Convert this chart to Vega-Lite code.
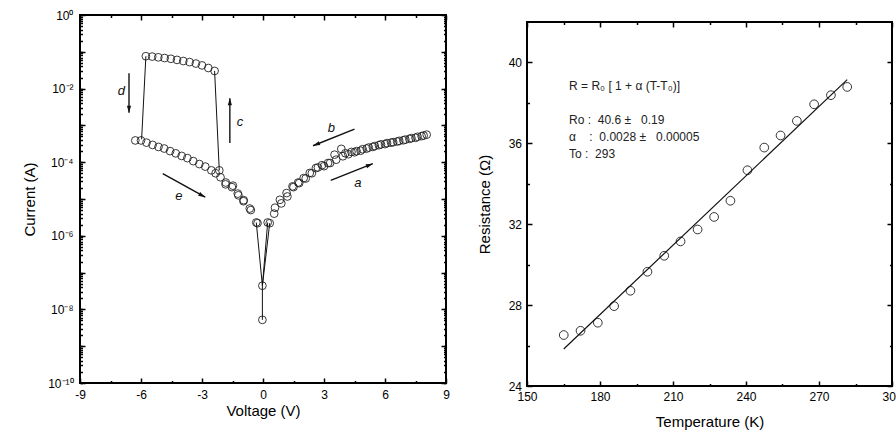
{
  "$schema": "https://vega.github.io/schema/vega-lite/v6.json",
  "padding": {"left": 21, "top": 8, "right": 0, "bottom": 0},
  "spacing": 25,
  "config": {
    "font": "Liberation Sans",
    "view": {"stroke": "black", "strokeWidth": 2},
    "axis": {"domain": false, "grid": false, "tickColor": "black", "tickWidth": 1.5, "labelColor": "black", "labelFont": "Liberation Sans", "labelFontSize": 12, "titleFont": "Liberation Sans", "titleFontSize": 15, "titleFontWeight": "normal", "titleColor": "black", "labelFlush": false, "labelOverlap": false}
  },
  "datasets": {
    "iv": [
      {"V": -6.28, "I": 3.9e-4}, {"V": -6.0, "I": 3.9e-4}, {"V": -5.73, "I": 3.4e-4}, {"V": -5.43, "I": 2.95e-4}, {"V": -5.14, "I": 2.6e-4}, {"V": -4.86, "I": 2.35e-4}, {"V": -4.57, "I": 2.0e-4}, {"V": -4.29, "I": 1.74e-4}, {"V": -4.0, "I": 1.48e-4}, {"V": -3.72, "I": 1.29e-4}, {"V": -3.43, "I": 1.07e-4}, {"V": -3.13, "I": 8.9e-5}, {"V": -2.84, "I": 7.6e-5}, {"V": -2.54, "I": 6.0e-5}, {"V": -2.33, "I": 5.0e-5}, {"V": -2.09, "I": 3.9e-5}, {"V": -1.84, "I": 2.5e-5}, {"V": -1.48, "I": 2.3e-5}, {"V": -1.24, "I": 1.4e-5}, {"V": -0.95, "I": 9.3e-6}, {"V": -0.65, "I": 5.5e-6}, {"V": -0.33, "I": 2.3e-6},
      {"V": -0.27, "I": 2.2e-6}, {"V": -0.6, "I": 5.0e-6}, {"V": -0.96, "I": 8.7e-6}, {"V": -1.21, "I": 1.26e-5}, {"V": -1.53, "I": 2.1e-5}, {"V": -1.83, "I": 2.8e-5}, {"V": -2.15, "I": 6.0e-5},
      {"V": -5.76, "I": 0.0759}, {"V": -5.45, "I": 0.0741}, {"V": -5.15, "I": 0.0708}, {"V": -4.84, "I": 0.0676}, {"V": -4.53, "I": 0.0646}, {"V": -4.23, "I": 0.0603}, {"V": -3.92, "I": 0.0562}, {"V": -3.61, "I": 0.0525}, {"V": -3.3, "I": 0.0479}, {"V": -3.0, "I": 0.0427}, {"V": -2.69, "I": 0.0363}, {"V": -2.38, "I": 0.0302},
      {"V": -0.03, "I": 4.4e-8}, {"V": -0.03, "I": 5.2e-9},
      {"V": 0.23, "I": 2.3e-6}, {"V": 0.55, "I": 4.0e-6}, {"V": 0.9, "I": 7.6e-6}, {"V": 1.2, "I": 1.17e-5}, {"V": 1.5, "I": 2.1e-5}, {"V": 1.78, "I": 2.7e-5}, {"V": 2.1, "I": 3.6e-5}, {"V": 2.4, "I": 5.0e-5}, {"V": 2.7, "I": 7.2e-5}, {"V": 3.0, "I": 7.8e-5}, {"V": 3.3, "I": 9.5e-5}, {"V": 3.6, "I": 1.17e-4}, {"V": 3.93, "I": 1.45e-4}, {"V": 4.2, "I": 1.65e-4}, {"V": 4.5, "I": 1.86e-4}, {"V": 4.8, "I": 2.05e-4}, {"V": 5.1, "I": 2.35e-4}, {"V": 5.4, "I": 2.6e-4}, {"V": 5.7, "I": 2.9e-4}, {"V": 6.0, "I": 3.1e-4}, {"V": 6.3, "I": 3.4e-4}, {"V": 6.6, "I": 3.65e-4}, {"V": 6.9, "I": 3.95e-4}, {"V": 7.2, "I": 4.3e-4}, {"V": 7.5, "I": 4.6e-4}, {"V": 7.8, "I": 5.1e-4}, {"V": 8.05, "I": 5.6e-4},
      {"V": 7.9, "I": 5.3e-4}, {"V": 7.6, "I": 4.9e-4}, {"V": 7.3, "I": 4.5e-4}, {"V": 7.0, "I": 4.1e-4}, {"V": 6.7, "I": 3.8e-4}, {"V": 6.4, "I": 3.5e-4}, {"V": 6.1, "I": 3.3e-4}, {"V": 5.8, "I": 3.05e-4}, {"V": 5.5, "I": 2.75e-4}, {"V": 5.2, "I": 2.5e-4}, {"V": 4.9, "I": 2.25e-4}, {"V": 4.6, "I": 2.0e-4}, {"V": 4.35, "I": 1.9e-4}, {"V": 4.05, "I": 1.75e-4}, {"V": 3.85, "I": 2.3e-4}, {"V": 3.52, "I": 1.6e-4}, {"V": 3.2, "I": 9.5e-5}, {"V": 2.9, "I": 8.3e-5}, {"V": 2.6, "I": 6.9e-5}, {"V": 2.3, "I": 5.1e-5}, {"V": 2.0, "I": 3.7e-5}, {"V": 1.73, "I": 2.8e-5}, {"V": 1.45, "I": 2.2e-5}, {"V": 1.16, "I": 1.45e-5}, {"V": 0.83, "I": 9.5e-6}, {"V": 0.59, "I": 5.8e-6}, {"V": 0.33, "I": 2.2e-6}
    ],
    "segs": [
      {"seg": "c", "ord": 1, "V": -2.15, "I": 6.0e-5}, {"seg": "c", "ord": 2, "V": -2.38, "I": 0.0302},
      {"seg": "d", "ord": 1, "V": -5.76, "I": 0.0759}, {"seg": "d", "ord": 2, "V": -5.97, "I": 4.2e-4},
      {"seg": "z1", "ord": 1, "V": -0.33, "I": 2.3e-6}, {"seg": "z1", "ord": 2, "V": -0.03, "I": 4.4e-8}, {"seg": "z1", "ord": 3, "V": 0.23, "I": 2.3e-6},
      {"seg": "z2", "ord": 1, "V": 0.33, "I": 2.2e-6}, {"seg": "z2", "ord": 2, "V": -0.03, "I": 4.4e-8}, {"seg": "z2", "ord": 3, "V": -0.03, "I": 5.2e-9}
    ],
    "arrows": [
      {"id": "a", "V1": 3.33, "I1": 3.2e-5, "V2": 5.4, "I2": 9.1e-5},
      {"id": "b", "V1": 4.5, "I1": 7.9e-4, "V2": 2.46, "I2": 2.8e-4},
      {"id": "c", "V1": -1.63, "I1": 3.3e-4, "V2": -1.63, "I2": 5.5e-3},
      {"id": "d", "V1": -6.59, "I1": 2.6e-2, "V2": -6.59, "I2": 2.2e-3},
      {"id": "e", "V1": -4.93, "I1": 4.9e-5, "V2": -2.84, "I2": 1.12e-5}
    ],
    "letters": [
      {"t": "a", "V": 4.66, "I": 2.8e-5}, {"t": "b", "V": 3.36, "I": 8.5e-4}, {"t": "c", "V": -1.13, "I": 1.2e-3}, {"t": "d", "V": -6.96, "I": 8.5e-3}, {"t": "e", "V": -4.14, "I": 1.23e-5}
    ],
    "rt": [
      {"T": 165.1, "R": 26.52}, {"T": 172.0, "R": 26.73}, {"T": 179.1, "R": 27.13}, {"T": 185.8, "R": 27.95}, {"T": 192.5, "R": 28.71}, {"T": 199.5, "R": 29.65}, {"T": 206.4, "R": 30.44}, {"T": 213.1, "R": 31.15}, {"T": 220.1, "R": 31.74}, {"T": 226.9, "R": 32.36}, {"T": 233.6, "R": 33.16}, {"T": 240.6, "R": 34.67}, {"T": 247.5, "R": 35.79}, {"T": 254.2, "R": 36.39}, {"T": 260.9, "R": 37.11}, {"T": 268.0, "R": 37.93}, {"T": 274.9, "R": 38.38}, {"T": 281.6, "R": 38.79}
    ],
    "fit": [{"T": 165.1, "R": 25.83}, {"T": 281.6, "R": 39.15}],
    "formula": [{"T": 167.3, "R": 38.82, "txt": "R = R₀ [ 1 + α (T-T₀)]"}],
    "params": [
      {"T": 167.3, "R": 37.14, "txt": "Ro :\u00a0 40.6 ±\u00a0\u00a0 0.19"},
      {"T": 167.3, "R": 36.29, "txt": "α\u00a0\u00a0\u00a0 :\u00a0 0.0028 ±\u00a0\u00a0 0.00005"},
      {"T": 167.3, "R": 35.45, "txt": "To :\u00a0 293"}
    ]
  },
  "hconcat": [
    {
      "width": 366,
      "height": 368,
      "resolve": {"axis": {"x": "independent", "y": "independent"}},
      "layer": [
        {
          "data": {"name": "iv"},
          "mark": {"type": "point", "shape": "circle", "filled": false, "stroke": "#222", "strokeWidth": 0.9, "size": 60, "opacity": 1},
          "encoding": {
            "x": {"field": "V", "type": "quantitative", "scale": {"domain": [-9, 9], "nice": false, "zero": false},
                  "axis": {"orient": "bottom", "values": [-9, -6, -3, 0, 3, 6, 9], "labelExpr": "replace(datum.label, '−', '-')", "title": "Voltage (V)", "offset": -5, "tickSize": 5, "labelPadding": 6, "titlePadding": 3.5}},
            "y": {"field": "I", "type": "quantitative", "scale": {"type": "log", "domain": [1e-10, 1], "nice": false},
                  "axis": {"orient": "left", "values": [1, 0.1, 0.01, 0.001, 0.0001, 1e-5, 1e-6, 1e-7, 1e-8, 1e-9, 1e-10], "labelExpr": "['10⁰','','10⁻²','','10⁻⁴','','10⁻⁶','','10⁻⁸','','10⁻¹⁰'][round(-log(datum.value)/LN10)]", "title": "Current (A)", "offset": -5, "tickSize": 5, "labelPadding": 7, "titlePadding": 10}}
          }
        },
        {
          "data": {"name": "segs"},
          "mark": {"type": "line", "color": "#111", "strokeWidth": 1},
          "encoding": {
            "x": {"field": "V", "type": "quantitative", "scale": {"domain": [-9, 9], "nice": false, "zero": false},
                  "axis": {"orient": "top", "values": [-9, -6, -3, 0, 3, 6, 9], "labels": false, "title": null, "offset": -5, "tickSize": 5}},
            "y": {"field": "I", "type": "quantitative", "scale": {"type": "log", "domain": [1e-10, 1], "nice": false},
                  "axis": {"orient": "right", "values": [1, 0.1, 0.01, 0.001, 0.0001, 1e-5, 1e-6, 1e-7, 1e-8, 1e-9, 1e-10], "labels": false, "title": null, "offset": -5, "tickSize": 5}},
            "detail": {"field": "seg"},
            "order": {"field": "ord", "type": "quantitative"}
          }
        },
        {
          "data": {"name": "arrows"},
          "mark": {"type": "rule", "color": "#111", "strokeWidth": 1.4},
          "encoding": {
            "x": {"field": "V1", "type": "quantitative", "scale": {"domain": [-9, 9], "nice": false, "zero": false},
                  "axis": {"orient": "bottom", "values": [-7.5, -4.5, -1.5, 1.5, 4.5, 7.5], "labels": false, "title": null, "offset": -2.5, "tickSize": 2.5}},
            "y": {"field": "I1", "type": "quantitative", "scale": {"type": "log", "domain": [1e-10, 1], "nice": false},
                  "axis": {"orient": "left", "tickCount": 100, "labels": false, "title": null, "offset": -2.5, "tickSize": 2.5}},
            "x2": {"field": "V2"},
            "y2": {"field": "I2"}
          }
        },
        {
          "data": {"name": "letters"},
          "mark": {"type": "text", "fontSize": 13, "fontStyle": "italic", "color": "#111", "align": "center", "baseline": "middle"},
          "encoding": {
            "x": {"field": "V", "type": "quantitative", "scale": {"domain": [-9, 9], "nice": false, "zero": false},
                  "axis": {"orient": "top", "values": [-7.5, -4.5, -1.5, 1.5, 4.5, 7.5], "labels": false, "title": null, "offset": -2.5, "tickSize": 2.5}},
            "y": {"field": "I", "type": "quantitative", "scale": {"type": "log", "domain": [1e-10, 1], "nice": false},
                  "axis": {"orient": "right", "tickCount": 100, "labels": false, "title": null, "offset": -2.5, "tickSize": 2.5}},
            "text": {"field": "t"}
          }
        },
        {
          "data": {"name": "arrows"},
          "transform": [{"filter": "datum.id == 'a'"}],
          "mark": {"type": "point", "shape": "M0,0L0.6,2L-0.6,2Z", "filled": true, "color": "#111", "opacity": 1, "size": 49, "angle": 68.6},
          "encoding": {
            "x": {"field": "V2", "type": "quantitative", "scale": {"domain": [-9, 9], "nice": false, "zero": false}, "axis": null},
            "y": {"field": "I2", "type": "quantitative", "scale": {"type": "log", "domain": [1e-10, 1], "nice": false}, "axis": null}
          }
        },
        {
          "data": {"name": "arrows"},
          "transform": [{"filter": "datum.id == 'b'"}],
          "mark": {"type": "point", "shape": "M0,0L0.6,2L-0.6,2Z", "filled": true, "color": "#111", "opacity": 1, "size": 49, "angle": 248.2},
          "encoding": {
            "x": {"field": "V2", "type": "quantitative", "scale": {"domain": [-9, 9], "nice": false, "zero": false}, "axis": null},
            "y": {"field": "I2", "type": "quantitative", "scale": {"type": "log", "domain": [1e-10, 1], "nice": false}, "axis": null}
          }
        },
        {
          "data": {"name": "arrows"},
          "transform": [{"filter": "datum.id == 'c'"}],
          "mark": {"type": "point", "shape": "M0,0L0.6,2L-0.6,2Z", "filled": true, "color": "#111", "opacity": 1, "size": 49, "angle": 0},
          "encoding": {
            "x": {"field": "V2", "type": "quantitative", "scale": {"domain": [-9, 9], "nice": false, "zero": false}, "axis": null},
            "y": {"field": "I2", "type": "quantitative", "scale": {"type": "log", "domain": [1e-10, 1], "nice": false}, "axis": null}
          }
        },
        {
          "data": {"name": "arrows"},
          "transform": [{"filter": "datum.id == 'd'"}],
          "mark": {"type": "point", "shape": "M0,0L0.6,2L-0.6,2Z", "filled": true, "color": "#111", "opacity": 1, "size": 49, "angle": 180},
          "encoding": {
            "x": {"field": "V2", "type": "quantitative", "scale": {"domain": [-9, 9], "nice": false, "zero": false}, "axis": null},
            "y": {"field": "I2", "type": "quantitative", "scale": {"type": "log", "domain": [1e-10, 1], "nice": false}, "axis": null}
          }
        },
        {
          "data": {"name": "arrows"},
          "transform": [{"filter": "datum.id == 'e'"}],
          "mark": {"type": "point", "shape": "M0,0L0.6,2L-0.6,2Z", "filled": true, "color": "#111", "opacity": 1, "size": 49, "angle": 118.6},
          "encoding": {
            "x": {"field": "V2", "type": "quantitative", "scale": {"domain": [-9, 9], "nice": false, "zero": false}, "axis": null},
            "y": {"field": "I2", "type": "quantitative", "scale": {"type": "log", "domain": [1e-10, 1], "nice": false}, "axis": null}
          }
        }
      ]
    },
    {
      "spacing": 0,
      "vconcat": [
        {
          "width": 365,
          "height": 5,
          "view": {"stroke": null},
          "data": {"values": []},
          "mark": {"type": "point"}
        },
        {
          "width": 365,
          "height": 364,
          "resolve": {"axis": {"x": "independent", "y": "independent"}},
          "layer": [
            {
              "data": {"name": "rt"},
              "mark": {"type": "point", "shape": "circle", "filled": false, "stroke": "#333", "strokeWidth": 1, "size": 76, "opacity": 1},
              "encoding": {
                "x": {"field": "T", "type": "quantitative", "scale": {"domain": [150, 300], "nice": false, "zero": false},
                      "axis": {"orient": "bottom", "values": [150, 180, 210, 240, 270, 300], "title": "Temperature (K)", "offset": -5, "tickSize": 5, "labelPadding": 5.5, "titlePadding": 12}},
                "y": {"field": "R", "type": "quantitative", "scale": {"domain": [24, 42], "nice": false, "zero": false},
                      "axis": {"orient": "left", "values": [24, 28, 32, 36, 40], "title": "Resistance (Ω)", "offset": -5, "tickSize": 5, "labelPadding": 5.5, "titlePadding": 16}}
              }
            },
            {
              "data": {"name": "fit"},
              "mark": {"type": "line", "color": "#111", "strokeWidth": 1.2},
              "encoding": {
                "x": {"field": "T", "type": "quantitative", "scale": {"domain": [150, 300], "nice": false, "zero": false},
                      "axis": {"orient": "top", "values": [150, 180, 210, 240, 270, 300], "labels": false, "title": null, "offset": -5, "tickSize": 5}},
                "y": {"field": "R", "type": "quantitative", "scale": {"domain": [24, 42], "nice": false, "zero": false},
                      "axis": {"orient": "right", "values": [24, 28, 32, 36, 40], "labels": false, "title": null, "offset": -5, "tickSize": 5}}
              }
            },
            {
              "data": {"name": "formula"},
              "mark": {"type": "text", "fontSize": 12, "color": "#222", "align": "left", "baseline": "middle"},
              "encoding": {
                "x": {"field": "T", "type": "quantitative", "scale": {"domain": [150, 300], "nice": false, "zero": false},
                      "axis": {"orient": "bottom", "values": [165, 195, 225, 255, 285], "labels": false, "title": null, "offset": -2.5, "tickSize": 2.5}},
                "y": {"field": "R", "type": "quantitative", "scale": {"domain": [24, 42], "nice": false, "zero": false},
                      "axis": {"orient": "left", "values": [26, 30, 34, 38], "labels": false, "title": null, "offset": -2.5, "tickSize": 2.5}},
                "text": {"field": "txt"}
              }
            },
            {
              "data": {"name": "params"},
              "mark": {"type": "text", "fontSize": 12, "color": "#222", "align": "left", "baseline": "middle"},
              "encoding": {
                "x": {"field": "T", "type": "quantitative", "scale": {"domain": [150, 300], "nice": false, "zero": false},
                      "axis": {"orient": "top", "values": [165, 195, 225, 255, 285], "labels": false, "title": null, "offset": -2.5, "tickSize": 2.5}},
                "y": {"field": "R", "type": "quantitative", "scale": {"domain": [24, 42], "nice": false, "zero": false},
                      "axis": {"orient": "right", "values": [26, 30, 34, 38], "labels": false, "title": null, "offset": -2.5, "tickSize": 2.5}},
                "text": {"field": "txt"}
              }
            }
          ]
        }
      ]
    }
  ]
}
